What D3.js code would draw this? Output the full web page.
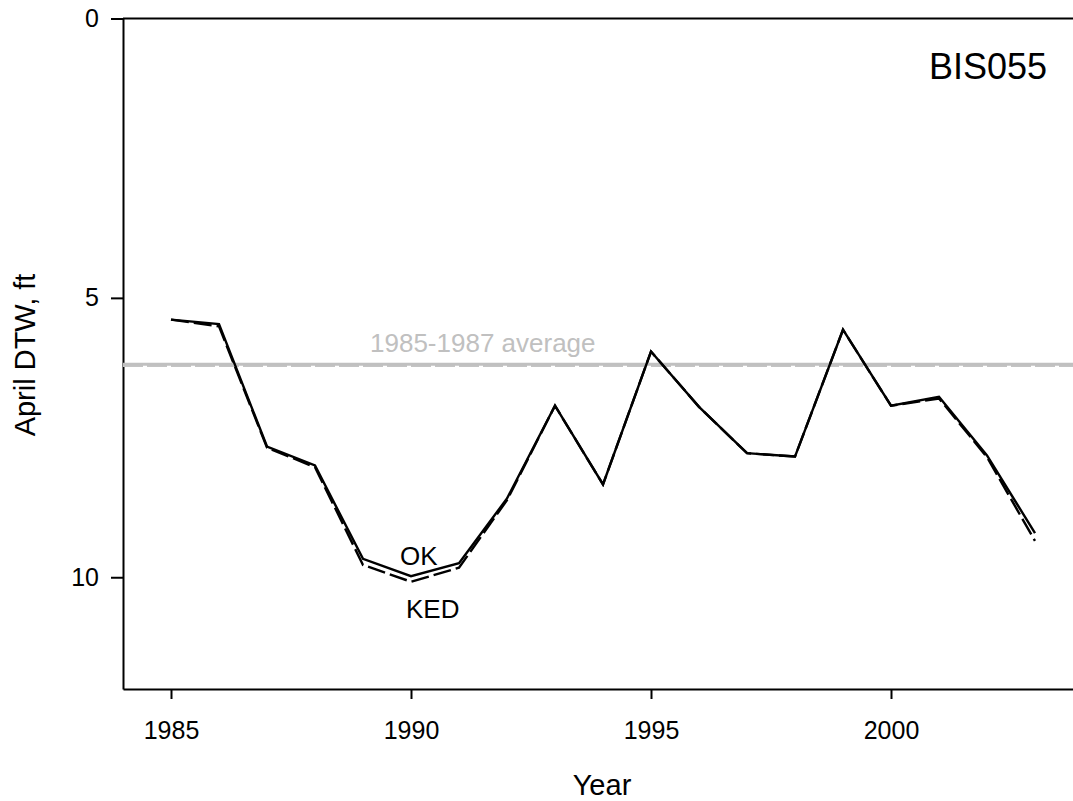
<!DOCTYPE html>
<html>
<head>
<meta charset="utf-8">
<script src="https://cdn.jsdelivr.net/npm/d3@7"></script>
<style>
  html, body { margin: 0; padding: 0; background: #fff; }
  svg { display: block; font-family: "Liberation Sans", Arial, sans-serif; }
</style>
</head>
<body>
<svg id="chart" width="1073" height="801"></svg>
<script>
// ---- data ----
const years = [1985,1986,1987,1988,1989,1990,1991,1992,1993,1994,1995,1996,1997,1998,1999,2000,2001,2002,2003];
const okValues  = [5.39,5.47,7.66,8.00,9.67,9.98,9.75,8.59,6.93,8.34,5.96,6.95,7.78,7.84,5.57,6.93,6.77,7.82,9.21];
const kedValues = [5.39,5.51,7.68,8.03,9.78,10.08,9.83,8.62,6.93,8.34,5.96,6.95,7.78,7.84,5.57,6.93,6.80,7.85,9.35];
const okAverage = 6.19;
const kedAverage = 6.22;
const xTicks = [1985,1990,1995,2000];
const yTicks = [0,5,10];
const stationName = "BIS055";
const averageLabel = "1985-1987 average";

(function () {
// ---- layout ----
const svg = d3.select("#chart");
const mLeft = 123, mTop = 18.5, mBottom = 689;
const x = d3.scaleLinear().domain([1984, 2004]).range([mLeft, mLeft + 960]);
const y = d3.scaleLinear().domain([0, 12]).range([mTop, mBottom]);

const font = "Liberation Sans, Arial, sans-serif";

// top frame line
svg.append("line")
  .attr("x1", mLeft).attr("x2", 1073)
  .attr("y1", y(0)).attr("y2", y(0))
  .attr("stroke", "#000").attr("stroke-width", 2);

// left axis
const yAxis = d3.axisLeft(y).tickValues(yTicks).tickSize(12).tickSizeOuter(0).tickPadding(12);
const gy = svg.append("g").attr("transform", `translate(${mLeft},0)`).call(yAxis);
gy.select(".domain").attr("stroke-width", 2);
gy.selectAll(".tick line").attr("stroke-width", 2);
gy.selectAll(".tick text").attr("font-size", 25).attr("font-family", font).attr("fill", "#000");

// bottom axis
const xAxis = d3.axisBottom(x).tickValues(xTicks).tickFormat(d3.format("d")).tickSize(10).tickSizeOuter(0).tickPadding(22);
const gx = svg.append("g").attr("transform", `translate(0,${mBottom})`).call(xAxis);
gx.select(".domain").attr("stroke-width", 2);
gx.selectAll(".tick line").attr("stroke-width", 2);
gx.selectAll(".tick text").attr("font-size", 25).attr("font-family", font).attr("fill", "#000");

// average lines
svg.append("line")
  .attr("x1", mLeft).attr("x2", 1073)
  .attr("y1", y(kedAverage)).attr("y2", y(kedAverage))
  .attr("stroke", "#c4c4c4").attr("stroke-width", 2)
  .attr("stroke-dasharray", "20,4");
svg.append("line")
  .attr("x1", mLeft).attr("x2", 1073)
  .attr("y1", y(okAverage)).attr("y2", y(okAverage))
  .attr("stroke", "#c0c0c0").attr("stroke-width", 3);

svg.append("text")
  .attr("x", 370).attr("y", 352)
  .attr("font-size", 26).attr("font-family", font)
  .attr("fill", "#c0c0c0")
  .text(averageLabel);

// series lines
const line = d3.line().x((d, i) => x(years[i])).y(d => y(d));
svg.append("path").datum(kedValues)
  .attr("d", line).attr("fill", "none")
  .attr("stroke", "#000").attr("stroke-width", 2.4)
  .attr("stroke-dasharray", "18,5");
svg.append("path").datum(okValues)
  .attr("d", line).attr("fill", "none")
  .attr("stroke", "#000").attr("stroke-width", 2.4);

// labels
svg.append("text").attr("x", 400).attr("y", 565)
  .attr("font-size", 26).attr("font-family", font).text("OK");
svg.append("text").attr("x", 406).attr("y", 618)
  .attr("font-size", 26).attr("font-family", font).text("KED");

svg.append("text").attr("x", 1047).attr("y", 79)
  .attr("text-anchor", "end")
  .attr("font-size", 36).attr("font-family", font).text(stationName);

svg.append("text").attr("x", 602).attr("y", 795)
  .attr("text-anchor", "middle")
  .attr("font-size", 29).attr("font-family", font).text("Year");

svg.append("text")
  .attr("transform", "translate(35,355) rotate(-90)")
  .attr("text-anchor", "middle")
  .attr("font-size", 29).attr("font-family", font).text("April DTW, ft");
})();
</script>
</body>
</html>
